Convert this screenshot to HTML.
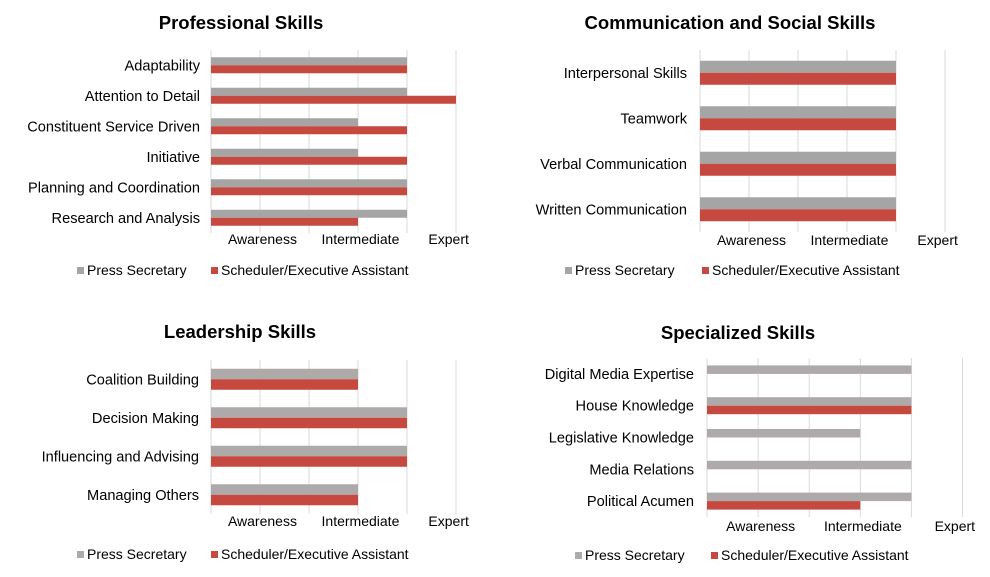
<!DOCTYPE html>
<html><head><meta charset="utf-8"><style>
body{margin:0;background:#fff;}
svg{display:block;font-family:"Liberation Sans",Arial,sans-serif;}
</style></head><body>
<svg id="c" width="990" height="577" viewBox="0 0 990 577"></svg>
<script>
const tickLabels = ["Awareness","Intermediate","Expert"];
const tickVals = [1.05,3.05,4.85];
const seriesNames = ["Press Secretary","Scheduler/Executive Assistant"];

const profCats = ["Adaptability","Attention to Detail","Constituent Service Driven","Initiative","Planning and Coordination","Research and Analysis"];
const profPress = [4,4,3,3,4,4];
const profSched = [4,5,4,4,4,3];

const commCats = ["Interpersonal Skills","Teamwork","Verbal Communication","Written Communication"];
const commPress = [4,4,4,4];
const commSched = [4,4,4,4];

const leadCats = ["Coalition Building","Decision Making","Influencing and Advising","Managing Others"];
const leadPress = [3,4,4,3];
const leadSched = [3,4,4,3];

const specCats = ["Digital Media Expertise","House Knowledge","Legislative Knowledge","Media Relations","Political Acumen"];
const specPress = [4,4,3,4,4];
const specSched = [0,4,0,0,3];

const NS="http://www.w3.org/2000/svg";
const svg=document.getElementById('c');
function mk(tag,attrs,parent){const e=document.createElementNS(NS,tag);for(const k in attrs)e.setAttribute(k,attrs[k]);(parent||svg).appendChild(e);return e;}

function panel(cfg){
  const g=mk('g',{});
  
  
  const xs=v=>cfg.x0+v*cfg.step;
  const band=(cfg.bottom-cfg.top)/cfg.cats.length;
  const t=mk('text',{x:cfg.tx,y:cfg.ty,'text-anchor':'middle','font-size':'18.5','font-weight':'bold',fill:'#000'},g);
  t.textContent=cfg.title;
  
  
  for(let i=0;i<=5;i++){
    const l=mk('line',{x1:xs(i),x2:xs(i),y1:cfg.top,y2:cfg.bottom,stroke:'#d9d9d9','stroke-width':1},g);
    
    
  }
  cfg.cats.forEach((c,i)=>{
    const cy=cfg.top+band*(i+0.5);
    const lab=mk('text',{x:cfg.lx,y:cy+5,'text-anchor':'end','font-size':'14.6',fill:'#000'},g);
    lab.textContent=c;
    
    
    if(cfg.press[i]>0){
      const r=mk('rect',{x:xs(0),y:cy-cfg.bh,width:xs(cfg.press[i])-xs(0),height:cfg.bh,fill:cfg.gray},g);
      
      
    }
    if(cfg.sched[i]>0){
      const r=mk('rect',{x:xs(0),y:cy,width:xs(cfg.sched[i])-xs(0),height:cfg.bh,fill:'#c5493f'},g);
      
      
    }
  });
  tickLabels.forEach((s,i)=>{
    const tl=mk('text',{x:xs(tickVals[i]),y:cfg.tickY,'text-anchor':'middle','font-size':'14',fill:'#000'},g);
    tl.textContent=s;
    
    
  });
  [[cfg.lg1,cfg.gray],[cfg.lg2,'#c5493f']].forEach((p,i)=>{
    const sq=mk('rect',{x:p[0],y:cfg.legY-8,width:7,height:7,fill:p[1]},g);
    
    
    const lt=mk('text',{x:p[0]+10,y:cfg.legY,'font-size':'14',fill:'#000'},g);
    lt.textContent=seriesNames[i];
    
    
  });
}

panel({name:'professional-skills-chart',title:'Professional Skills',tx:241,ty:29,cats:profCats,press:profPress,sched:profSched,x0:211,step:49,top:50,bottom:233,bh:8,lx:200,tickY:244,legY:275,lg1:77,lg2:211,gray:'#a5a5a5'});
panel({name:'communication-skills-chart',title:'Communication and Social Skills',tx:730,ty:29,cats:commCats,press:commPress,sched:commSched,x0:700,step:49,top:50,bottom:232,bh:12,lx:687,tickY:245,legY:275,lg1:565,lg2:702,gray:'#a5a5a5'});
panel({name:'leadership-skills-chart',title:'Leadership Skills',tx:240,ty:338,cats:leadCats,press:leadPress,sched:leadSched,x0:211,step:49,top:360,bottom:514,bh:10.5,lx:199,tickY:526,legY:559,lg1:77,lg2:211,gray:'#aeaaaa'});
panel({name:'specialized-skills-chart',title:'Specialized Skills',tx:738,ty:339,cats:specCats,press:specPress,sched:specSched,x0:707,step:51.1,top:358,bottom:517,bh:8.5,lx:694,tickY:531,legY:560,lg1:575,lg2:711,gray:'#aeaaaa'});
</script>
</body></html>
